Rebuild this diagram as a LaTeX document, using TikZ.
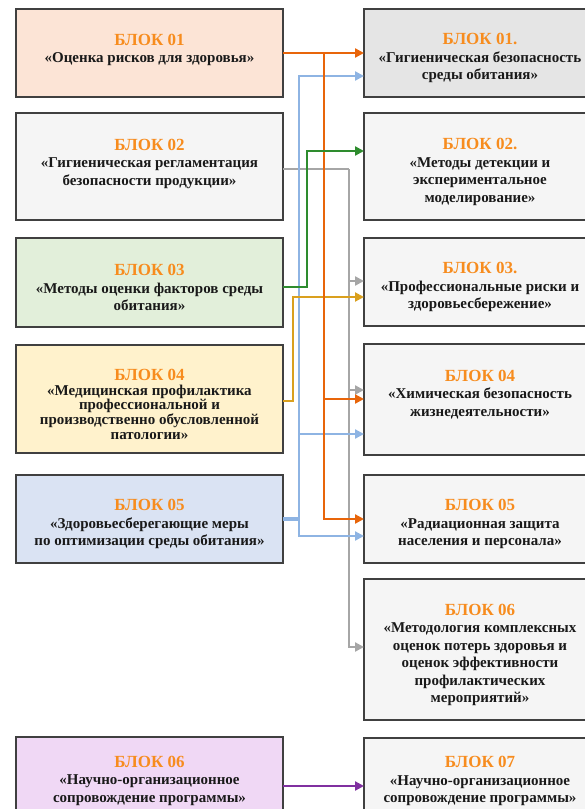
\documentclass[tikz,border=0pt]{standalone}
\usepackage{fontspec}
\setmainfont{Liberation Serif}
\usetikzlibrary{positioning, arrows.meta}

\definecolor{titleorange}{RGB}{247,140,30}
\definecolor{orng}{RGB}{232,101,10}
\definecolor{blu}{RGB}{142,180,227}
\definecolor{grn}{RGB}{46,140,46}
\definecolor{gry}{RGB}{166,166,166}
\definecolor{gld}{RGB}{218,160,30}
\definecolor{prpl}{RGB}{128,48,160}

\newcommand{\blocktitle}[1]{{\rule{0pt}{22pt}\fontsize{17}{21}\selectfont\color{titleorange}#1}}

\begin{document}
\begin{tikzpicture}[
    x=1pt, y=-1pt,
    block/.style={
        draw=black!75,
        line width=1.2pt,
        align=center,
        inner sep=0pt,
        outer sep=0pt,
        text=black!90,
        font=\fontsize{15}{17.5}\selectfont\bfseries,
    },
    leftblock/.style={
        block,
        minimum width=267pt,
    },
    rightblock/.style={
        block,
        minimum width=232pt,
        fill=black!4,
    },
    link/.style={
        line width=2.4pt,
    },
    arrow/.style={
        link,
        -{Triangle[length=9pt, width=9pt]},
    },
]

    \useasboundingbox (0,0) rectangle (585,809);
    \clip (0,0) rectangle (585,809);

    % left column
    \node[leftblock, fill={rgb,255:red,252;green,228;blue,214}, minimum height=88pt] (l1) at (149.5,53)
        {\blocktitle{БЛОК 01}\\«Оценка рисков для здоровья»\\[2.5pt]};
    \node[leftblock, fill=black!4, minimum height=107pt, below=16pt of l1] (l2)
        {\blocktitle{БЛОК 02}\\«Гигиеническая регламентация\\безопасности продукции»\\[2.5pt]};
    \node[leftblock, fill={rgb,255:red,226;green,239;blue,218}, minimum height=89pt, below=18pt of l2] (l3)
        {\blocktitle{БЛОК 03}\\«Методы оценки факторов среды\\обитания»};
    \node[leftblock, fill={rgb,255:red,255;green,242;blue,204}, minimum height=108pt, below=18pt of l3,
          font=\fontsize{15}{14.8}\selectfont\bfseries] (l4)
        {\blocktitle{БЛОК 04}\\«Медицинская профилактика\\профессиональной и\\производственно обусловленной\\патологии»};
    \node[leftblock, fill={rgb,255:red,218;green,227;blue,243}, minimum height=88pt, below=22pt of l4] (l5)
        {\blocktitle{БЛОК 05}\\«Здоровьесберегающие меры\\по оптимизации среды обитания»};
    \node[leftblock, fill={rgb,255:red,240;green,216;blue,245}, minimum height=84pt] (l6) at (149.5,779)
        {\blocktitle{БЛОК 06}\\«Научно-организационное\\сопровождение программы»\\[-6.5pt]};

    % right column
    \node[rightblock, fill=black!10, minimum height=88pt] (r1) at (480,53)
        {\blocktitle{БЛОК 01.}\\«Гигиеническая безопасность\\среды обитания»};
    \node[rightblock, minimum height=107pt, below=16pt of r1] (r2)
        {\blocktitle{БЛОК 02.}\\«Методы детекции и\\экспериментальное\\моделирование»};
    \node[rightblock, minimum height=88pt, below=18pt of r2] (r3)
        {\blocktitle{БЛОК 03.}\\«Профессиональные риски и\\здоровьесбережение»};
    \node[rightblock, minimum height=111pt, below=18pt of r3] (r4)
        {\blocktitle{БЛОК 04}\\«Химическая безопасность\\жизнедеятельности»\\[6pt]};
    \node[rightblock, minimum height=88pt, below=20pt of r4] (r5)
        {\blocktitle{БЛОК 05}\\«Радиационная защита\\населения и персонала»};
    \node[rightblock, minimum height=141pt, below=16pt of r5] (r6)
        {\blocktitle{БЛОК 06}\\«Методология комплексных\\оценок потерь здоровья и\\оценок эффективности\\профилактических\\мероприятий»};
    \node[rightblock, minimum height=84pt, below=18pt of r6] (r7)
        {\blocktitle{БЛОК 07}\\«Научно-организационное\\сопровождение программы»\\[-5.5pt]};

    % connectors
    \coordinate (graysplit) at (349,169);
    \coordinate (bluesplit) at (299,519);
    \coordinate (orangesplit) at (324,53);

    \draw[link, gry] (l2.east |- graysplit) -- (graysplit);
    \draw[arrow, gry] (graysplit) |- (r3.west |- 0,281);
    \draw[arrow, gry] (graysplit) |- (r4.west |- 0,390);
    \draw[arrow, gry] (graysplit) |- (r6.west |- 0,647);

    \draw[link, blu, line width=3.6pt] (l5.east |- bluesplit) -- (bluesplit);
    \draw[arrow, blu] (bluesplit) |- (r1.west |- 0,76);
    \draw[arrow, blu] (bluesplit) |- (r4.west |- 0,434);
    \draw[arrow, blu] (bluesplit) |- (r5.west |- 0,536);

    \draw[arrow, gld, line width=2pt] (l4.east |- 0,401) -- ++(10,0) |- (r3.west |- 0,297);

    \draw[arrow, orng, line width=2.8pt] (l1.east) -- (r1.west);
    \draw[arrow, orng, line width=2.8pt] (orangesplit) |- (r4.west |- 0,399);
    \draw[arrow, orng, line width=2.8pt] (orangesplit) |- (r5.west |- 0,519);

    \draw[arrow, grn, line width=2.8pt] (l3.east |- 0,287) -- ++(24,0) |- (r2.west |- 0,151);

    \draw[arrow, prpl] (l6.east |- 0,786) -- (r7.west |- 0,786);

\end{tikzpicture}
\end{document}
